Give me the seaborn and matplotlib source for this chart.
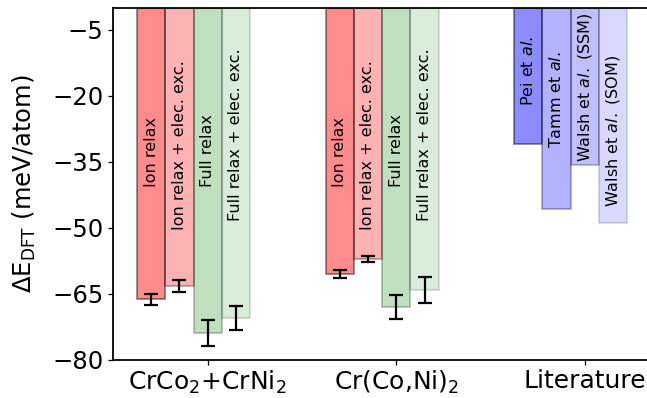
import numpy as np
import pandas as pd
import matplotlib
matplotlib.use("Agg")
import matplotlib.pyplot as plt
import seaborn as sns

# data (meV/atom)
groups = ["CrCo$_2$+CrNi$_2$", "Cr(Co,Ni)$_2$", "Literature"]
calc_labels = ["Ion relax", "Ion relax + elec. exc.", "Full relax", "Full relax + elec. exc."]
lit_labels = ["Pei et $\\it{al.}$", "Tamm et $\\it{al.}$",
              "Walsh et $\\it{al.}$ (SSM)", "Walsh et $\\it{al.}$ (SOM)"]

ion_relax = [-66.3, -60.6]
ion_relax_exc = [-63.3, -57.2]
full_relax = [-74.0, -68.1]
full_relax_exc = [-70.5, -64.2]
ion_relax_err = [1.3, 0.85]
ion_relax_exc_err = [1.3, 0.75]
full_relax_err = [2.9, 2.7]
full_relax_exc_err = [2.7, 2.85]
literature = [-31.1, -45.9, -35.9, -49.0]

calc = [ion_relax, ion_relax_exc, full_relax, full_relax_exc]
calc_err = [ion_relax_err, ion_relax_exc_err, full_relax_err, full_relax_exc_err]

rows = []
for j in range(4):
    for i in range(2):
        rows.append((groups[i], j, calc[j][i]))
    rows.append((groups[2], j, literature[j]))
df = pd.DataFrame(rows, columns=["group", "slot", "value"])

sns.set_style("white")
plt.rcParams["font.family"] = ["DejaVu Sans"]
plt.rcParams["text.color"] = "black"
plt.rcParams["axes.labelcolor"] = "black"
plt.rcParams["xtick.color"] = "black"
plt.rcParams["ytick.color"] = "black"

fig = plt.figure(figsize=(6.47, 3.98), dpi=100)
ax = fig.add_axes([0.1747, 0.0967, 0.8253, 0.8844])

sns.barplot(data=df, x="group", y="value", hue="slot", order=groups,
            hue_order=[0, 1, 2, 3], width=0.6, errorbar=None, legend=False, ax=ax)

calc_colors = [("red", 0.45), ("red", 0.3), ("green", 0.25), ("green", 0.15)]
lit_colors = [("blue", 0.45), ("blue", 0.3), ("blue", 0.25), ("blue", 0.15)]
calc_text_y = [-32.8, -31.3, -32.4, -28.8]
lit_text_y = [-14.5, -21.0, -18.0, -28.0]

bar_conts = list(ax.containers)
for j, cont in enumerate(bar_conts):
    for i, bar in enumerate(cont):
        col, a = lit_colors[j] if i == 2 else calc_colors[j]
        bar.set_facecolor(col)
        bar.set_edgecolor("k")
        bar.set_alpha(a)
        bar.set_linewidth(1.3)
        xc = bar.get_x() + bar.get_width() / 2
        if i < 2:
            ax.errorbar(xc, calc[j][i], yerr=calc_err[j][i], color="k",
                        lw=1.6, capsize=5, capthick=1.6, zorder=5)
            ax.text(xc, calc_text_y[j], calc_labels[j], rotation=90,
                    ha="center", va="center", fontsize=11.5)
        else:
            ax.text(xc, lit_text_y[j], lit_labels[j], rotation=90,
                    ha="center", va="center", fontsize=11.5)

off = bar_conts[2][0].get_x() + bar_conts[2][0].get_width() / 2
ax.set_xticks([off, off + 1, off + 2])
ax.set_xticklabels(groups, fontsize=18)
ax.set_xlim(off - 0.502, off + 2.33)
ax.set_ylim(-80, 0)
ax.set_yticks([-5, -20, -35, -50, -65, -80])
ax.tick_params(axis="y", labelsize=17.5, length=3.5, width=0.9, left=True)
ax.tick_params(axis="x", length=3.5, width=0.9, bottom=True)
ax.set_xlabel("")
ax.set_ylabel("$\\Delta$E$_{\\rm DFT}$ (meV/atom)", fontsize=17.5, labelpad=10)
for s in ["left", "bottom", "top"]:
    ax.spines[s].set_color("k")
    ax.spines[s].set_linewidth(1.3)
ax.spines["right"].set_visible(False)

fig.savefig("out.png", dpi=100)
